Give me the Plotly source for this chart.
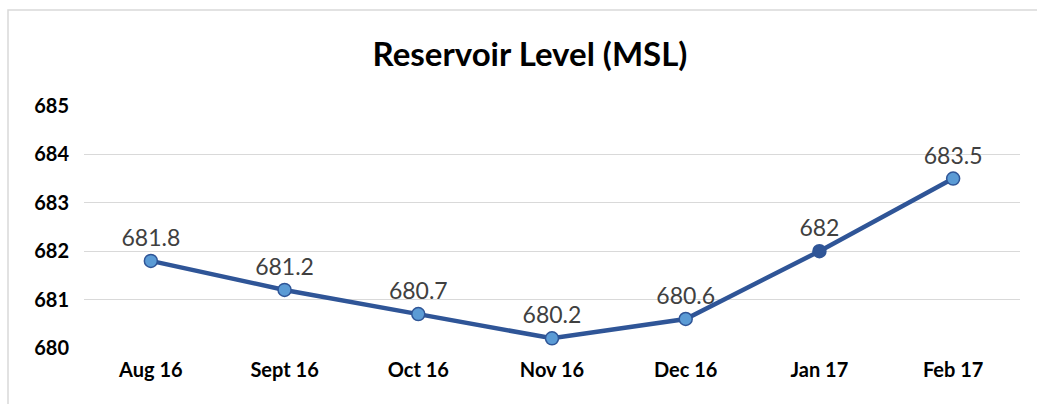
import plotly.graph_objects as go

months = ["Aug 16", "Sept 16", "Oct 16", "Nov 16", "Dec 16", "Jan 17", "Feb 17"]
levels = [681.8, 681.2, 680.7, 680.2, 680.6, 682.0, 683.5]
labels = ["681.8", "681.2", "680.7", "680.2", "680.6", "682", "683.5"]
y_ticks = [680, 681, 682, 683, 684, 685]

line_color = "#2F5597"
fill_color = "#5B9BD5"
marker_fill = [line_color if m == "Jan 17" else fill_color for m in months]
FONT = "Lato, Open Sans, sans-serif"

fig = go.Figure()
fig.add_trace(go.Scatter(
    x=months, y=levels, mode="lines+markers+text",
    text=labels, textposition="top center",
    textfont=dict(family=FONT, size=23, color="#404040"),
    line=dict(color=line_color, width=4.5),
    marker=dict(size=13, color=marker_fill, line=dict(color=line_color, width=1.5)),
    cliponaxis=False, showlegend=False,
))

fig.update_layout(
    width=1037, height=404,
    margin=dict(l=84, r=17, t=106, b=56),
    paper_bgcolor="white", plot_bgcolor="white",
    title=dict(text="Reservoir Level (MSL)", xref="container", x=530 / 1037, xanchor="center",
               y=1 - 54 / 404, yanchor="middle",
               font=dict(family=FONT, size=33, color="#000000", weight="bold")),
    xaxis=dict(range=[-0.5, 6.5], showgrid=False, showline=False, zeroline=False,
               ticks="", tickfont=dict(family=FONT, size=20, color="#000000", weight="bold"),
               ticklabelstandoff=8),
    yaxis=dict(range=[680, 685], tickvals=y_ticks, showgrid=True, gridcolor="#D9D9D9",
               gridwidth=1.2, zeroline=False, showline=False, ticks="",
               tickfont=dict(family=FONT, size=20, color="#000000", weight="bold"),
               ticklabelstandoff=14),
    shapes=[dict(type="rect", xref="paper", yref="paper",
                 x0=(8 - 84) / 936, x1=1.2, y0=-0.5, y1=(348 - 10) / 242,
                 line=dict(color="#D9D9D9", width=1.5), fillcolor="rgba(0,0,0,0)", layer="below")],
)

fig.write_html("out.html", config={"displayModeBar": False},
               post_script="document.body.style.margin='0';")
